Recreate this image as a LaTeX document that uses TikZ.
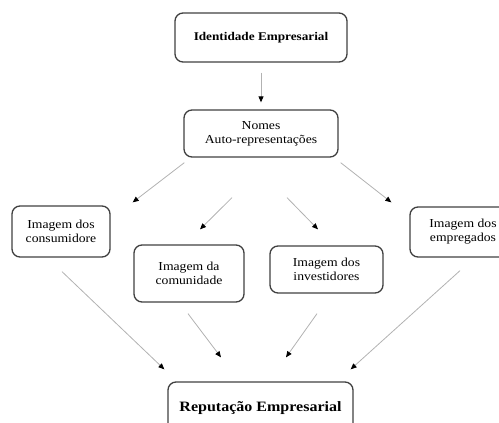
\documentclass[tikz,border=0pt]{standalone}
\usepackage{fontspec}
\setmainfont[FakeStretch=1.12]{Liberation Serif}
\usetikzlibrary{arrows.meta,calc}

\tikzset{
  box/.style={draw=black!75, line width=1.3pt, rounded corners=8pt,
    align=center, inner sep=0pt, font=\fontsize{12.2}{14}\selectfont},
  bigbox/.style={box, font=\fontsize{11.8}{14}\selectfont\bfseries},
  flow/.style={draw=black!30, line width=0.8pt,
    -{Triangle[length=6pt,width=5pt,color=black]}},
}

\begin{document}
\begin{tikzpicture}[x=1pt,y=-1pt]
  \useasboundingbox (0,0) rectangle (499,423);
  \clip (0,0) rectangle (499,423);

  % boxes
  \node[bigbox, minimum width=172pt, minimum height=49pt] (iden) at (261,37.5) {Identidade Empresarial};
  \node[box, minimum width=154pt, minimum height=47pt] (nomes) at (261,133.5) {Nomes\\Auto-representações};
  \node[box, minimum width=98pt, minimum height=51pt] (cons) at (61,231.5) {Imagem dos\\consumidore};
  \node[box, minimum width=110pt, minimum height=57pt] (comu) at (189,273.5) {Imagem da\\comunidade};
  \node[box, minimum width=113pt, minimum height=47pt] (inve) at (326.5,269.5) {Imagem dos\\investidores};
  \node[box, minimum width=106pt, minimum height=50pt] (empr) at (463,232) {Imagem dos\\empregados};
  \node[box, minimum width=185pt, minimum height=52pt,
        font=\fontsize{14.3}{16}\selectfont\bfseries] (repu) at (260.5,408) {Reputação Empresarial};

  % connectors
  \draw[flow] ($(iden.south)+(0,10)$) -- ($(nomes.north)+(0,-7)$);
  \draw[flow] ($(nomes.south west)+(1,5)$) -- ($(cons.north east)+(22,-3)$);
  \draw[flow] ($(nomes.south)+(-29,40)$) -- ($(comu.north)+(11,-15)$);
  \draw[flow] ($(nomes.south)+(26,40)$) -- ($(inve.north)+(-8.5,-16)$);
  \draw[flow] ($(nomes.south east)+(2,5)$) -- ($(empr.north west)+(-18,-4)$);

  \draw[flow] ($(cons.south)+(1,14)$) -- ($(repu.north west)+(-3,-12)$);
  \draw[flow] ($(comu.south)+(-1,11)$) -- ($(repu.north)+(-39.5,-24)$);
  \draw[flow] ($(inve.south)+(-9.5,20)$) -- ($(repu.north)+(25.5,-24)$);
  \draw[flow] ($(empr.south)+(-3,13)$) -- ($(repu.north east)+(-3,-12)$);
\end{tikzpicture}
\end{document}
